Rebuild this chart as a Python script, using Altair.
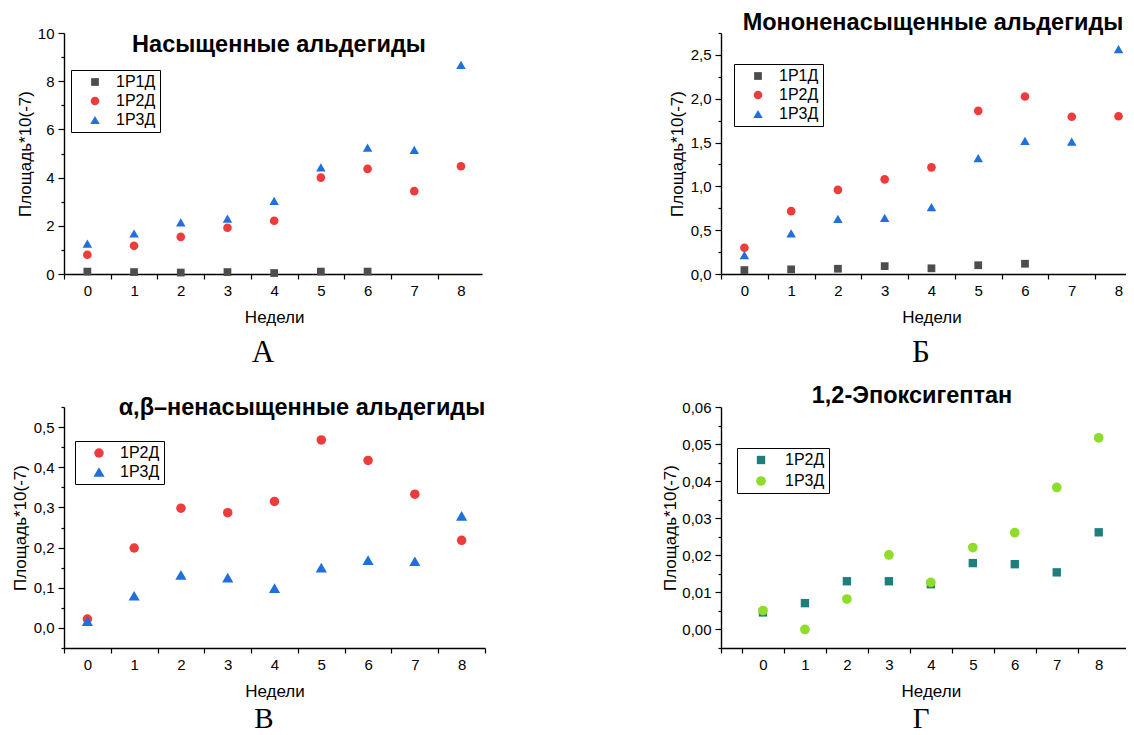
import altair as alt
import pandas as pd

# ---------------- data ----------------
weeks = [0, 1, 2, 3, 4, 5, 6, 7, 8]
weeks_short = [0, 1, 2, 3, 4, 5, 6]

# A: saturated aldehydes
a_r1 = [0.10, 0.08, 0.06, 0.08, 0.04, 0.10, 0.10]
a_r2 = [0.80, 1.17, 1.54, 1.92, 2.21, 4.00, 4.36, 3.44, 4.47]
a_r3 = [1.26, 1.68, 2.14, 2.30, 3.03, 4.42, 5.24, 5.15, 8.68]

# Б: monounsaturated aldehydes
b_r1 = [0.045, 0.053, 0.060, 0.090, 0.065, 0.100, 0.117]
b_r2 = [0.30, 0.717, 0.96, 1.08, 1.217, 1.862, 2.025, 1.794, 1.80]
b_r3 = [0.216, 0.463, 0.63, 0.64, 0.762, 1.323, 1.52, 1.51, 2.567]

# В: alpha,beta-unsaturated aldehydes
c_r2 = [0.022, 0.199, 0.298, 0.287, 0.315, 0.468, 0.417, 0.333, 0.218]
c_r3 = [0.017, 0.080, 0.132, 0.125, 0.099, 0.150, 0.169, 0.166, 0.279]

# Г: 1,2-epoxyheptane
d_r2 = [0.0046, 0.0071, 0.0130, 0.0130, 0.0122, 0.0179, 0.0176, 0.0154, 0.0262]
d_r3 = [0.0051, 0.0000, 0.0082, 0.0201, 0.0127, 0.0221, 0.0261, 0.0383, 0.0517]

series_3 = ["1Р1Д", "1Р2Д", "1Р3Д"]
series_2 = ["1Р2Д", "1Р3Д"]

titles = ["Насыщенные альдегиды", "Мононенасыщенные альдегиды",
          "α,β–ненасыщенные альдегиды", "1,2-Эпоксигептан"]
letters = ["А", "Б", "В", "Г"]
y_title = "Площадь*10(-7)"
x_title = "Недели"

# tick values
x_ticks_half = [-0.5, 0, 0.5, 1, 1.5, 2, 2.5, 3, 3.5, 4, 4.5, 5, 5.5, 6, 6.5, 7, 7.5, 8, 8.5]
x_ticks_d = [-1, -0.5, 0, 0.5, 1, 1.5, 2, 2.5, 3, 3.5, 4, 4.5, 5, 5.5, 6, 6.5, 7, 7.5, 8, 8.5]
y_ticks_a = [0, 1, 2, 3, 4, 5, 6, 7, 8, 9, 10]
y_ticks_b = [0, 0.25, 0.5, 0.75, 1.0, 1.25, 1.5, 1.75, 2.0, 2.25, 2.5, 2.75]
y_ticks_c = [-0.05, 0, 0.05, 0.1, 0.15, 0.2, 0.25, 0.3, 0.35, 0.4, 0.45, 0.5, 0.55]
y_ticks_d = [-0.005, 0, 0.005, 0.01, 0.015, 0.02, 0.025, 0.03, 0.035, 0.04, 0.045, 0.05, 0.055, 0.06]

GRAY = "#4d4d4d"
RED = "#ee3b3b"
BLUE = "#1f6fdc"
TEAL = "#1f7d7b"
LIME = "#8ddd2a"

FONT = "Liberation Sans"
SERIF = "Liberation Serif"


def frame(pairs):
    rows = []
    for name, xs, ys in pairs:
        for x, y in zip(xs, ys):
            rows.append({"week": x, "value": y, "series": name})
    return pd.DataFrame(rows)


def panel(df, dom, cols, shps, szs, xdom, ydom, w, h, xvals, yvals,
          ymaj, yfmt, ytx, heading, hx, hy, letter, lx, ly, lsize,
          lgx, lgy, lg_offset, lg_row):
    x4 = (4 - xdom[0]) / (xdom[1] - xdom[0]) * w
    xaxis = alt.Axis(
        values=xvals, grid=False, title=x_title,
        labelExpr="(datum.value >= 0 && datum.value <= 8 && datum.value == round(datum.value)) ? format(datum.value, 'd') : ''",
        tickOpacity={"condition": {"test": "datum.value >= 0 && datum.value == round(datum.value)", "value": 0}, "value": 1},
        tickSize=5, labelPadding=4, labelFlush=False, labelOverlap=False,
        titleX=x4, titleY=43, titleBaseline="middle", titleAnchor="middle",
        titleAlign="center",
    )
    yaxis = alt.Axis(
        values=yvals, grid=False, title=y_title,
        labelExpr=f"({ymaj}) ? replace(format(datum.value, '{yfmt}'), '.', ',') : ''",
        tickSize={"condition": {"test": ymaj, "value": 6}, "value": 3},
        labelPadding=4, labelFlush=False, labelOverlap=False,
        titleX=ytx, titleY=h / 2, titleBaseline="middle", titleAngle=270,
        titleAlign="center",
    )
    legend = alt.Legend(
        title=None, orient="none", legendX=lgx, legendY=lgy,
        strokeColor="black", padding=4, symbolOffset=12, labelOffset=lg_offset,
        labelFontSize=16, labelFont=FONT, labelColor="black",
        rowPadding=lg_row, symbolSize=60, symbolStrokeWidth=0,
        direction="vertical",
    )
    pts = alt.Chart(df).mark_point(filled=True, opacity=1, strokeWidth=0).encode(
        x=alt.X("week:Q", scale=alt.Scale(domain=xdom, nice=False, zero=False), axis=xaxis),
        y=alt.Y("value:Q", scale=alt.Scale(domain=ydom, nice=False, zero=False), axis=yaxis),
        color=alt.Color("series:N", scale=alt.Scale(domain=dom, range=cols), legend=legend),
        shape=alt.Shape("series:N", scale=alt.Scale(domain=dom, range=shps), legend=legend),
        size=alt.Size("series:N", scale=alt.Scale(domain=dom, range=szs), legend=None),
    )
    head = alt.Chart(pd.DataFrame({"t": [heading]})).mark_text(
        font=FONT, fontSize=23.5, fontWeight="bold", color="black",
        align="center", baseline="middle",
    ).encode(text="t:N", x=alt.value(hx), y=alt.value(hy))
    let = alt.Chart(pd.DataFrame({"t": [letter]})).mark_text(
        font=SERIF, fontSize=lsize, color="black", align="center", baseline="alphabetic",
    ).encode(text="t:N", x=alt.value(lx), y=alt.value(ly))
    return alt.layer(pts, head, let).properties(width=w, height=h)


df_a = frame([(series_3[0], weeks_short, a_r1), (series_3[1], weeks, a_r2), (series_3[2], weeks, a_r3)])
df_b = frame([(series_3[0], weeks_short, b_r1), (series_3[1], weeks, b_r2), (series_3[2], weeks, b_r3)])
df_c = frame([(series_2[0], weeks, c_r2), (series_2[1], weeks, c_r3)])
df_d = frame([(series_2[0], weeks, d_r2), (series_2[1], weeks, d_r3)])

maj_a = "datum.value % 2 == 0"
maj_b = "abs(datum.value * 2 - round(datum.value * 2)) < 1e-6"
maj_c = "abs(datum.value * 10 - round(datum.value * 10)) < 1e-6"
maj_d = "abs(datum.value * 100 - round(datum.value * 100)) < 1e-6"

pA = panel(df_a, series_3, [GRAY, RED, BLUE], ["square", "circle", "triangle-up"], [60, 90, 125],
           [-0.5, 8.45], [0, 10], 418, 241, x_ticks_half[:-1], y_ticks_a,
           maj_a, "d", -39, titles[0], 215, 12, letters[0], 199, 329, 31,
           7, 37, 13, 3)
pB = panel(df_b, series_3, [GRAY, RED, BLUE], ["square", "circle", "triangle-up"], [60, 90, 125],
           [-0.5, 8.16], [0, 2.75], 405, 241, x_ticks_half[:-1], y_ticks_b,
           maj_b, ".1f", -43.5, titles[1], 212, -10, letters[1], 200, 329, 31,
           13, 31, 13, 3)
pC = panel(df_c, series_2, [RED, BLUE], ["circle", "triangle-up"], [90, 125],
           [-0.5, 8.5], [-0.05, 0.55], 421, 241, x_ticks_half, y_ticks_c,
           maj_c, ".1f", -43.5, titles[2], 238, 1, letters[2], 200, 321, 29,
           11, 34, 13, 3)
pD = panel(df_d, series_2, [TEAL, LIME], ["square", "circle"], [70, 95],
           [-1, 8.65], [-0.005, 0.06], 405, 241, x_ticks_d[:-1], y_ticks_d,
           maj_d, ".2f", -51, titles[3], 191, -11.5, letters[3], 200, 321, 29,
           16, 41, 16, 5)

chart = alt.concat(
    pA, pB, pC, pD, columns=2,
    spacing={"row": 133, "column": 236},
    bounds="flush", align="each",
).resolve_scale(
    x="independent", y="independent", color="independent",
    shape="independent", size="independent",
).resolve_legend(
    color="independent", shape="independent", size="independent",
).configure(
    padding={"left": 3, "top": 3, "right": 0, "bottom": 0},
).configure_view(
    strokeOpacity=0,
).configure_axis(
    domainColor="black", domainWidth=1.4, tickColor="black", tickWidth=1.2,
    labelColor="black", labelFont=FONT, labelFontSize=15,
    titleColor="black", titleFont=FONT, titleFontSize=17, titleFontWeight="normal",
)

chart.save("out.html", embed_options={"renderer": "svg", "actions": False})
